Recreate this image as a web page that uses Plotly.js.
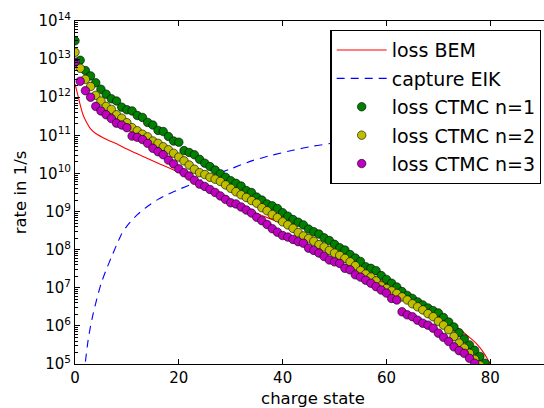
<!DOCTYPE html>
<html><head><meta charset="utf-8">
<script src="https://cdn.plot.ly/plotly-3.0.1.min.js"></script>
<style>html,body{margin:0;padding:0;overflow:hidden;background:#fff}</style>
</head><body><div id="chart" style="width:560px;height:408px"></div>
<script>
// log10 of rate (1/s), one value per charge state starting at 0
const logCtmcN1 = [
 13.48,12.97,12.70,12.56,12.38,12.21,12.08,11.96,11.90,11.74,11.67,11.64,11.52,11.47,11.34,11.27,11.13,11.10,10.97,10.85,10.82,
 10.60,10.55,10.49,10.37,10.27,10.18,10.09,9.99,9.90,9.81,9.74,9.67,9.55,9.50,9.38,9.30,9.20,
 9.15,9.08,8.97,8.88,8.79,8.72,8.65,8.54,8.47,8.41,8.31,8.24,8.14,8.05,7.99,7.87,7.78,7.69,7.55,7.51,7.45,
 7.32,7.22,7.12,7.02,6.90,6.80,6.72,6.63,6.55,6.47,6.40,6.34,6.22,6.10,5.97,5.82,5.66,5.50,5.36,5.20,5.02];
const logCtmcN2 = [
 13.18,12.76,12.47,12.28,12.05,11.90,11.76,11.68,11.54,11.45,11.33,11.20,11.12,11.03,10.96,10.85,10.79,10.70,10.62,10.53,10.43,
 10.33,10.22,10.11,10.02,9.97,9.90,9.85,9.79,9.70,9.61,9.52,9.44,9.37,9.29,9.22,9.10,9.02,8.92,8.84,8.73,
 8.65,8.56,8.45,8.36,8.29,8.22,8.13,8.07,7.98,7.91,7.85,7.77,7.68,7.58,7.45,7.36,7.28,7.18,
 7.05,6.98,6.92,6.85,6.76,6.68,6.58,6.50,6.42,6.32,6.24,6.12,6.02,5.90,5.72,5.55,5.42,5.28,5.12,4.97];
const logCtmcN3 = [
 12.92,12.42,12.17,12.00,11.76,11.64,11.54,11.44,11.32,11.27,11.20,10.98,10.95,10.89,10.79,10.66,10.57,10.49,10.35,10.25,10.12,
 10.02,9.93,9.82,9.72,9.66,9.58,9.50,9.41,9.32,9.23,9.20,9.12,9.04,8.96,8.85,8.76,8.66,8.55,8.46,8.37,
 8.33,8.27,8.21,8.17,8.04,7.98,7.91,7.82,7.73,7.68,7.64,7.51,7.47,7.34,7.28,7.20,7.12,7.03,
 6.94,6.86,6.72,6.68,6.37,6.29,6.24,6.15,6.07,6.02,5.94,5.81,5.70,5.59,5.45,5.35,5.28,5.15,5.02];

const bemCharge = [0,0.5,1,1.5,2,3,4,6,8,10,13,16,20,25,30,35,40,45,50,55,60,65,70,72,74,76,77,78,79,79.5,80];
const logBem    = [12.35,12.08,11.80,11.56,11.40,11.17,11.05,10.90,10.78,10.64,10.45,10.27,10.03,9.62,9.28,8.95,8.68,8.30,7.93,7.52,7.10,6.68,6.26,6.10,5.92,5.70,5.58,5.43,5.24,5.12,5.00];

const eikCharge = [1.8,2,2.5,3,3.5,4,5,6,7,8,9,10,12,14,16,18,20,23,26,30,34,38,42,46,50,55,60,65,70,75,80];
const logEik    = [4.7,5.05,5.6,6.0,6.32,6.6,7.1,7.47,7.8,8.12,8.42,8.62,8.92,9.14,9.32,9.46,9.58,9.75,9.92,10.12,10.33,10.48,10.61,10.72,10.8,10.9,10.98,11.05,11.1,11.15,11.2];

const yTickExp = [5,6,7,8,9,10,11,12,13,14];
const xTicks = [0,20,40,60,80];

const toRate = a => a.map(v => Math.pow(10, v));
const charges = n => Array.from({length: n}, (_, i) => i);

const FONT = 'DejaVu Sans, sans-serif';
const dotTrace = (name, logs, color) => ({
  x: charges(logs.length), y: toRate(logs), name: name, legendgroup: name,
  type: 'scatter', mode: 'markers',
  marker: {symbol: 'circle', size: 8.5, color: color, line: {color: '#000', width: 0.6}}
});

const data = [
  {x: bemCharge, y: toRate(logBem), name: 'loss BEM', legendgroup: 'bem', type: 'scatter', mode: 'lines',
   line: {color: '#ff0000', width: 1.1, shape: 'spline', smoothing: 0.6}},
  {x: eikCharge, y: toRate(logEik), name: 'capture EIK', legendgroup: 'eik', type: 'scatter', mode: 'lines',
   line: {color: '#0000ff', width: 1.1, dash: '8px,6px', shape: 'spline', smoothing: 0.6}},
  dotTrace('loss CTMC n=1', logCtmcN1, '#008000'),
  dotTrace('loss CTMC n=2', logCtmcN2, '#bfbf00'),
  dotTrace('loss CTMC n=3', logCtmcN3, '#bf00bf')
];

const layout = {
  width: 560, height: 408,
  margin: {l: 75, r: 9, t: 21, b: 44},
  paper_bgcolor: '#fff', plot_bgcolor: '#fff',
  font: {family: FONT, size: 15, color: '#000'},
  showlegend: true,
  legend: {x: 0.980, xanchor: 'right', y: 0.974, yanchor: 'top',
    bgcolor: '#fff', bordercolor: '#000', borderwidth: 1.2,
    font: {family: FONT, size: 19, color: '#000'},
    tracegroupgap: 0.7, itemwidth: 50},
  xaxis: {range: [0, 91.7], tickvals: xTicks, ticktext: xTicks.map(String),
    ticks: 'inside', ticklen: 5, tickcolor: '#000', showline: true, linecolor: '#000', linewidth: 1,
    mirror: 'allticks', showgrid: false, zeroline: false,
    tickfont: {family: FONT, size: 15},
    title: {text: 'charge state', font: {family: FONT, size: 16.5}, standoff: 8}},
  yaxis: {type: 'log', range: [5, 14],
    tickvals: yTickExp.map(e => Math.pow(10, e)), ticktext: yTickExp.map(e => '10<sup>' + e + '</sup>'),
    ticks: 'inside', ticklen: 5, tickcolor: '#000', showline: true, linecolor: '#000', linewidth: 1,
    mirror: 'allticks', showgrid: false, zeroline: false,
    minor: {ticks: 'inside', ticklen: 2.5, tickcolor: '#000', dtick: 'D1', showgrid: false},
    tickfont: {family: FONT, size: 15},
    title: {text: 'rate in 1/s', font: {family: FONT, size: 16.5}, standoff: 7}}
};

Plotly.newPlot('chart', data, layout, {displayModeBar: false, staticPlot: true});
</script></body></html>
